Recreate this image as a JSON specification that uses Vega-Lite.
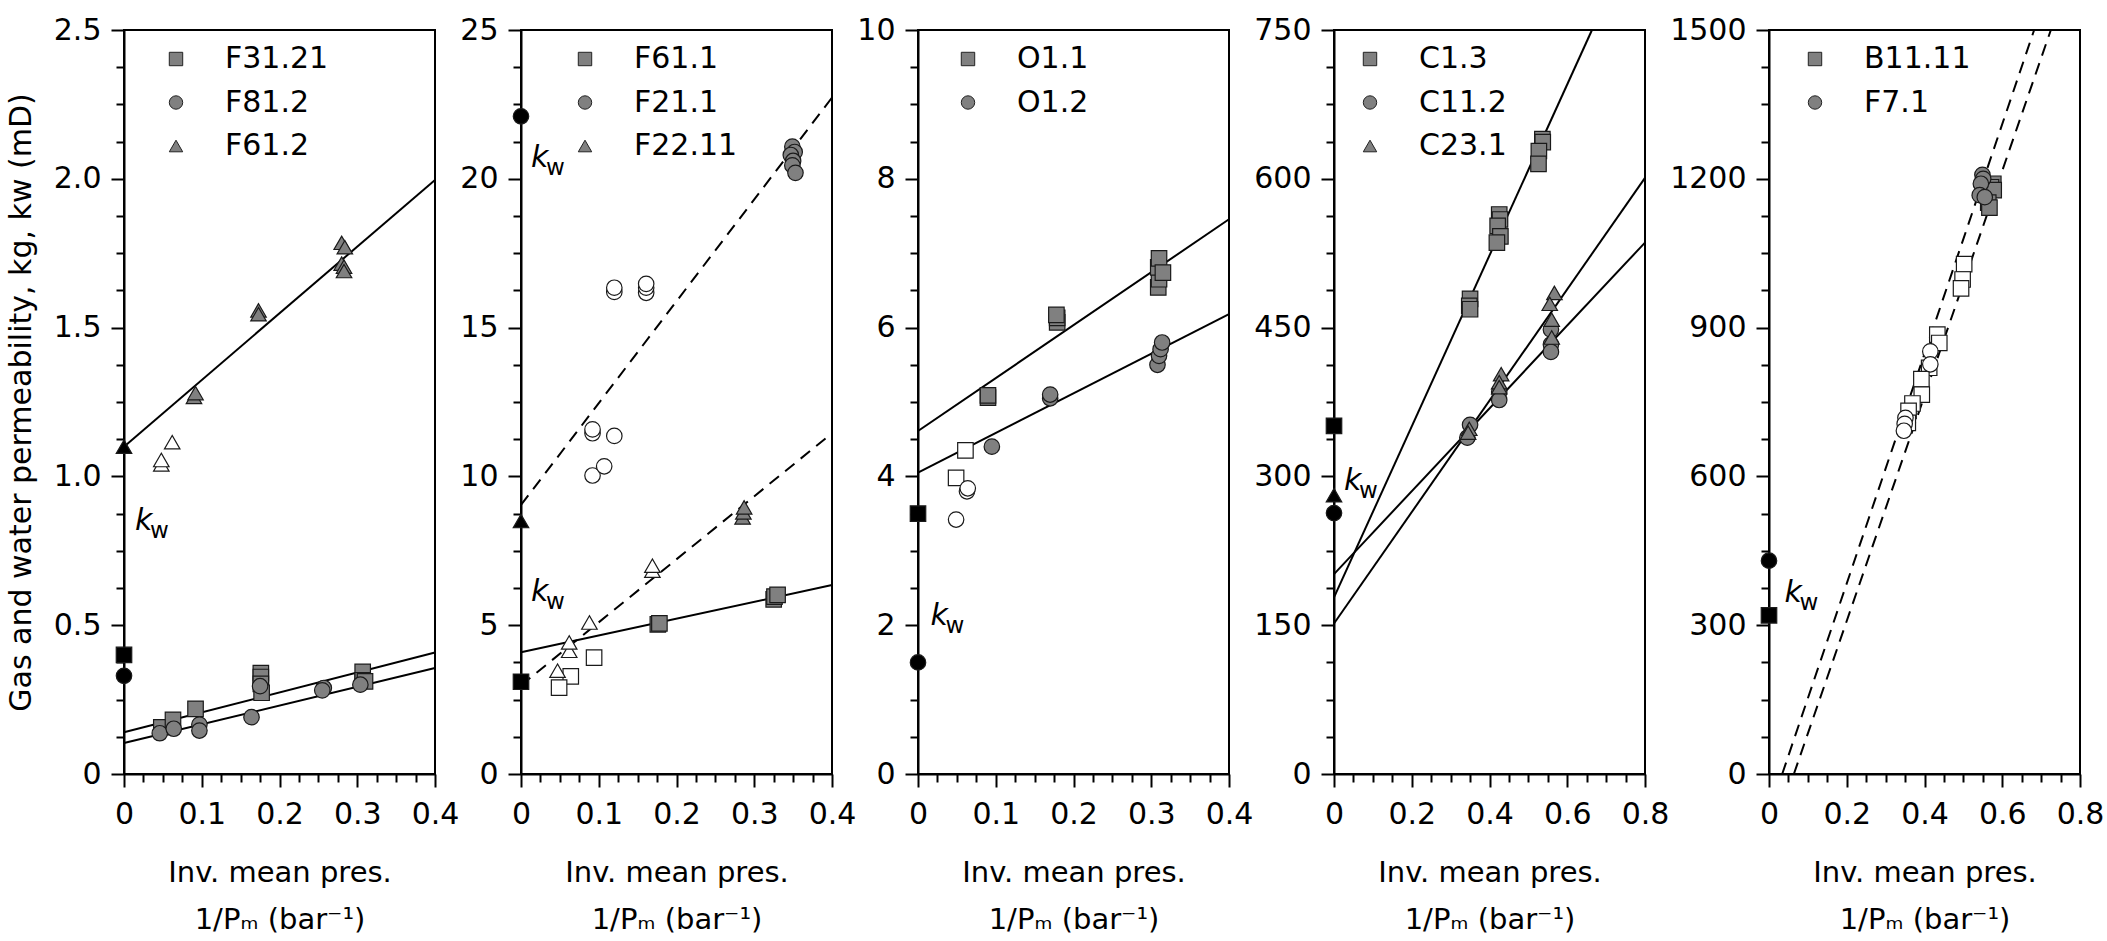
{
  "$schema": "https://vega.github.io/schema/vega-lite/v6.json",
  "background": "white",
  "padding": {"left": 5, "top": 14, "right": 0, "bottom": 0},
  "spacing": -2,
  "config": {
    "font": "DejaVu Sans",
    "view": {"stroke": "black", "strokeWidth": 2},
    "axis": {"domainColor": "black", "domainWidth": 2, "tickColor": "black", "tickWidth": 2, "labelFont": "DejaVu Sans", "labelFontSize": 30, "labelColor": "black", "titleFont": "DejaVu Sans", "titleFontSize": 29, "titleFontWeight": "normal", "titleColor": "black", "grid": false, "labelOverlap": false, "labelFlush": false},
    "axisX": {"labelPadding": 12, "titlePadding": 29, "titleLineHeight": 47},
    "axisY": {"labelPadding": 10, "titlePadding": 17, "titleFontSize": 30},
    "legend": {"labelFont": "DejaVu Sans", "labelFontSize": 30, "labelColor": "black", "symbolSize": 180, "symbolFillColor": "#808080", "symbolStrokeColor": "#222222", "symbolStrokeWidth": 1, "labelOffset": 34, "rowPadding": 13.5, "padding": 0}
  },
  "datasets": {
    "pts": [
      {"panel": 1, "series": "F31.21", "kind": "gas", "x": 0.048, "y": 0.157},
      {"panel": 1, "series": "F31.21", "kind": "gas", "x": 0.063, "y": 0.182},
      {"panel": 1, "series": "F31.21", "kind": "gas", "x": 0.092, "y": 0.219},
      {"panel": 1, "series": "F31.21", "kind": "gas", "x": 0.176, "y": 0.339},
      {"panel": 1, "series": "F31.21", "kind": "gas", "x": 0.176, "y": 0.326},
      {"panel": 1, "series": "F31.21", "kind": "gas", "x": 0.176, "y": 0.303},
      {"panel": 1, "series": "F31.21", "kind": "gas", "x": 0.177, "y": 0.273},
      {"panel": 1, "series": "F31.21", "kind": "gas", "x": 0.307, "y": 0.343},
      {"panel": 1, "series": "F31.21", "kind": "gas", "x": 0.307, "y": 0.315},
      {"panel": 1, "series": "F31.21", "kind": "gas", "x": 0.31, "y": 0.311},
      {"panel": 1, "series": "F31.21", "kind": "water", "x": 0, "y": 0.4},
      {"panel": 1, "series": "F81.2", "kind": "gas", "x": 0.046, "y": 0.137},
      {"panel": 1, "series": "F81.2", "kind": "gas", "x": 0.064, "y": 0.152},
      {"panel": 1, "series": "F81.2", "kind": "gas", "x": 0.097, "y": 0.166},
      {"panel": 1, "series": "F81.2", "kind": "gas", "x": 0.097, "y": 0.146},
      {"panel": 1, "series": "F81.2", "kind": "gas", "x": 0.164, "y": 0.191},
      {"panel": 1, "series": "F81.2", "kind": "gas", "x": 0.175, "y": 0.295},
      {"panel": 1, "series": "F81.2", "kind": "gas", "x": 0.257, "y": 0.289},
      {"panel": 1, "series": "F81.2", "kind": "gas", "x": 0.255, "y": 0.281},
      {"panel": 1, "series": "F81.2", "kind": "gas", "x": 0.304, "y": 0.3},
      {"panel": 1, "series": "F81.2", "kind": "water", "x": 0, "y": 0.33},
      {"panel": 1, "series": "F61.2", "kind": "gas", "x": 0.09, "y": 1.267},
      {"panel": 1, "series": "F61.2", "kind": "gas", "x": 0.092, "y": 1.28},
      {"panel": 1, "series": "F61.2", "kind": "gas", "x": 0.173, "y": 1.558},
      {"panel": 1, "series": "F61.2", "kind": "gas", "x": 0.173, "y": 1.545},
      {"panel": 1, "series": "F61.2", "kind": "gas", "x": 0.28, "y": 1.785},
      {"panel": 1, "series": "F61.2", "kind": "gas", "x": 0.284, "y": 1.77},
      {"panel": 1, "series": "F61.2", "kind": "gas", "x": 0.28, "y": 1.715},
      {"panel": 1, "series": "F61.2", "kind": "gas", "x": 0.283, "y": 1.705},
      {"panel": 1, "series": "F61.2", "kind": "gas", "x": 0.283, "y": 1.69},
      {"panel": 1, "series": "F61.2", "kind": "excluded", "x": 0.048, "y": 1.04},
      {"panel": 1, "series": "F61.2", "kind": "excluded", "x": 0.048, "y": 1.055},
      {"panel": 1, "series": "F61.2", "kind": "excluded", "x": 0.062, "y": 1.115},
      {"panel": 1, "series": "F61.2", "kind": "water", "x": 0, "y": 1.1},

      {"panel": 2, "series": "F61.1", "kind": "gas", "x": 0.176, "y": 5.03},
      {"panel": 2, "series": "F61.1", "kind": "gas", "x": 0.178, "y": 5.06},
      {"panel": 2, "series": "F61.1", "kind": "gas", "x": 0.325, "y": 5.87},
      {"panel": 2, "series": "F61.1", "kind": "gas", "x": 0.326, "y": 5.96},
      {"panel": 2, "series": "F61.1", "kind": "gas", "x": 0.33, "y": 6.02},
      {"panel": 2, "series": "F61.1", "kind": "excluded", "x": 0.094, "y": 3.91},
      {"panel": 2, "series": "F61.1", "kind": "excluded", "x": 0.064, "y": 3.28},
      {"panel": 2, "series": "F61.1", "kind": "excluded", "x": 0.049, "y": 2.9},
      {"panel": 2, "series": "F61.1", "kind": "water", "x": 0, "y": 3.1},
      {"panel": 2, "series": "F21.1", "kind": "gas", "x": 0.349, "y": 21.08},
      {"panel": 2, "series": "F21.1", "kind": "gas", "x": 0.352, "y": 20.9},
      {"panel": 2, "series": "F21.1", "kind": "gas", "x": 0.347, "y": 20.8},
      {"panel": 2, "series": "F21.1", "kind": "gas", "x": 0.35, "y": 20.6},
      {"panel": 2, "series": "F21.1", "kind": "gas", "x": 0.349, "y": 20.45},
      {"panel": 2, "series": "F21.1", "kind": "gas", "x": 0.353, "y": 20.2},
      {"panel": 2, "series": "F21.1", "kind": "excluded", "x": 0.12, "y": 16.2},
      {"panel": 2, "series": "F21.1", "kind": "excluded", "x": 0.12, "y": 16.34},
      {"panel": 2, "series": "F21.1", "kind": "excluded", "x": 0.161, "y": 16.17},
      {"panel": 2, "series": "F21.1", "kind": "excluded", "x": 0.161, "y": 16.34},
      {"panel": 2, "series": "F21.1", "kind": "excluded", "x": 0.161, "y": 16.47},
      {"panel": 2, "series": "F21.1", "kind": "excluded", "x": 0.092, "y": 11.45},
      {"panel": 2, "series": "F21.1", "kind": "excluded", "x": 0.092, "y": 11.58},
      {"panel": 2, "series": "F21.1", "kind": "excluded", "x": 0.12, "y": 11.36},
      {"panel": 2, "series": "F21.1", "kind": "excluded", "x": 0.092, "y": 10.03},
      {"panel": 2, "series": "F21.1", "kind": "excluded", "x": 0.107, "y": 10.34},
      {"panel": 2, "series": "F21.1", "kind": "water", "x": 0, "y": 22.1},
      {"panel": 2, "series": "F22.11", "kind": "gas", "x": 0.285, "y": 8.62},
      {"panel": 2, "series": "F22.11", "kind": "gas", "x": 0.286, "y": 8.79},
      {"panel": 2, "series": "F22.11", "kind": "gas", "x": 0.287, "y": 8.96},
      {"panel": 2, "series": "F22.11", "kind": "excluded", "x": 0.169, "y": 6.83},
      {"panel": 2, "series": "F22.11", "kind": "excluded", "x": 0.169, "y": 7.0},
      {"panel": 2, "series": "F22.11", "kind": "excluded", "x": 0.088, "y": 5.09},
      {"panel": 2, "series": "F22.11", "kind": "excluded", "x": 0.062, "y": 4.14},
      {"panel": 2, "series": "F22.11", "kind": "excluded", "x": 0.062, "y": 4.42},
      {"panel": 2, "series": "F22.11", "kind": "excluded", "x": 0.047, "y": 3.47},
      {"panel": 2, "series": "F22.11", "kind": "water", "x": 0, "y": 8.5},

      {"panel": 3, "series": "O1.1", "kind": "gas", "x": 0.09, "y": 5.06},
      {"panel": 3, "series": "O1.1", "kind": "gas", "x": 0.09, "y": 5.09},
      {"panel": 3, "series": "O1.1", "kind": "gas", "x": 0.179, "y": 6.07},
      {"panel": 3, "series": "O1.1", "kind": "gas", "x": 0.179, "y": 6.13},
      {"panel": 3, "series": "O1.1", "kind": "gas", "x": 0.178, "y": 6.17},
      {"panel": 3, "series": "O1.1", "kind": "gas", "x": 0.309, "y": 6.54},
      {"panel": 3, "series": "O1.1", "kind": "gas", "x": 0.31, "y": 6.65},
      {"panel": 3, "series": "O1.1", "kind": "gas", "x": 0.309, "y": 6.81},
      {"panel": 3, "series": "O1.1", "kind": "gas", "x": 0.31, "y": 6.93},
      {"panel": 3, "series": "O1.1", "kind": "gas", "x": 0.315, "y": 6.74},
      {"panel": 3, "series": "O1.1", "kind": "excluded", "x": 0.061, "y": 4.35},
      {"panel": 3, "series": "O1.1", "kind": "excluded", "x": 0.049, "y": 3.98},
      {"panel": 3, "series": "O1.1", "kind": "water", "x": 0, "y": 3.5},
      {"panel": 3, "series": "O1.2", "kind": "gas", "x": 0.095, "y": 4.4},
      {"panel": 3, "series": "O1.2", "kind": "gas", "x": 0.17, "y": 5.05},
      {"panel": 3, "series": "O1.2", "kind": "gas", "x": 0.17, "y": 5.1},
      {"panel": 3, "series": "O1.2", "kind": "gas", "x": 0.308, "y": 5.5},
      {"panel": 3, "series": "O1.2", "kind": "gas", "x": 0.31, "y": 5.62},
      {"panel": 3, "series": "O1.2", "kind": "gas", "x": 0.312, "y": 5.71},
      {"panel": 3, "series": "O1.2", "kind": "gas", "x": 0.314, "y": 5.8},
      {"panel": 3, "series": "O1.2", "kind": "excluded", "x": 0.063, "y": 3.8},
      {"panel": 3, "series": "O1.2", "kind": "excluded", "x": 0.064, "y": 3.84},
      {"panel": 3, "series": "O1.2", "kind": "excluded", "x": 0.049, "y": 3.42},
      {"panel": 3, "series": "O1.2", "kind": "water", "x": 0, "y": 1.5},

      {"panel": 4, "series": "C1.3", "kind": "gas", "x": 0.35, "y": 479},
      {"panel": 4, "series": "C1.3", "kind": "gas", "x": 0.348, "y": 472},
      {"panel": 4, "series": "C1.3", "kind": "gas", "x": 0.35, "y": 468.5},
      {"panel": 4, "series": "C1.3", "kind": "gas", "x": 0.425, "y": 564},
      {"panel": 4, "series": "C1.3", "kind": "gas", "x": 0.427, "y": 559},
      {"panel": 4, "series": "C1.3", "kind": "gas", "x": 0.421, "y": 552.5},
      {"panel": 4, "series": "C1.3", "kind": "gas", "x": 0.428, "y": 542},
      {"panel": 4, "series": "C1.3", "kind": "gas", "x": 0.419, "y": 535.7},
      {"panel": 4, "series": "C1.3", "kind": "gas", "x": 0.536, "y": 640},
      {"panel": 4, "series": "C1.3", "kind": "gas", "x": 0.537, "y": 637},
      {"panel": 4, "series": "C1.3", "kind": "gas", "x": 0.527, "y": 628},
      {"panel": 4, "series": "C1.3", "kind": "gas", "x": 0.526, "y": 615},
      {"panel": 4, "series": "C1.3", "kind": "water", "x": 0, "y": 351},
      {"panel": 4, "series": "C11.2", "kind": "gas", "x": 0.35, "y": 352},
      {"panel": 4, "series": "C11.2", "kind": "gas", "x": 0.343, "y": 339},
      {"panel": 4, "series": "C11.2", "kind": "gas", "x": 0.425, "y": 385},
      {"panel": 4, "series": "C11.2", "kind": "gas", "x": 0.425, "y": 377},
      {"panel": 4, "series": "C11.2", "kind": "gas", "x": 0.558, "y": 448},
      {"panel": 4, "series": "C11.2", "kind": "gas", "x": 0.558, "y": 433},
      {"panel": 4, "series": "C11.2", "kind": "gas", "x": 0.558, "y": 425.5},
      {"panel": 4, "series": "C11.2", "kind": "water", "x": 0, "y": 263},
      {"panel": 4, "series": "C23.1", "kind": "gas", "x": 0.348, "y": 348},
      {"panel": 4, "series": "C23.1", "kind": "gas", "x": 0.345, "y": 344},
      {"panel": 4, "series": "C23.1", "kind": "gas", "x": 0.43, "y": 403},
      {"panel": 4, "series": "C23.1", "kind": "gas", "x": 0.425, "y": 395},
      {"panel": 4, "series": "C23.1", "kind": "gas", "x": 0.425, "y": 390},
      {"panel": 4, "series": "C23.1", "kind": "gas", "x": 0.567, "y": 485},
      {"panel": 4, "series": "C23.1", "kind": "gas", "x": 0.555, "y": 474},
      {"panel": 4, "series": "C23.1", "kind": "gas", "x": 0.56, "y": 458},
      {"panel": 4, "series": "C23.1", "kind": "gas", "x": 0.56, "y": 440},
      {"panel": 4, "series": "C23.1", "kind": "water", "x": 0, "y": 281},

      {"panel": 5, "series": "B11.11", "kind": "excluded", "x": 0.502, "y": 1028},
      {"panel": 5, "series": "B11.11", "kind": "excluded", "x": 0.498, "y": 997},
      {"panel": 5, "series": "B11.11", "kind": "excluded", "x": 0.494, "y": 979},
      {"panel": 5, "series": "B11.11", "kind": "excluded", "x": 0.433, "y": 886},
      {"panel": 5, "series": "B11.11", "kind": "excluded", "x": 0.438, "y": 869},
      {"panel": 5, "series": "B11.11", "kind": "excluded", "x": 0.412, "y": 819},
      {"panel": 5, "series": "B11.11", "kind": "excluded", "x": 0.392, "y": 796},
      {"panel": 5, "series": "B11.11", "kind": "excluded", "x": 0.393, "y": 765},
      {"panel": 5, "series": "B11.11", "kind": "excluded", "x": 0.369, "y": 747},
      {"panel": 5, "series": "B11.11", "kind": "excluded", "x": 0.359, "y": 732},
      {"panel": 5, "series": "B11.11", "kind": "excluded", "x": 0.357, "y": 708},
      {"panel": 5, "series": "F7.1", "kind": "excluded", "x": 0.415, "y": 852},
      {"panel": 5, "series": "F7.1", "kind": "excluded", "x": 0.415, "y": 826},
      {"panel": 5, "series": "F7.1", "kind": "excluded", "x": 0.351, "y": 718},
      {"panel": 5, "series": "F7.1", "kind": "excluded", "x": 0.349, "y": 706},
      {"panel": 5, "series": "F7.1", "kind": "excluded", "x": 0.347, "y": 692},
      {"panel": 5, "series": "B11.11", "kind": "gas", "x": 0.577, "y": 1190},
      {"panel": 5, "series": "B11.11", "kind": "gas", "x": 0.571, "y": 1183},
      {"panel": 5, "series": "B11.11", "kind": "gas", "x": 0.578, "y": 1177},
      {"panel": 5, "series": "B11.11", "kind": "gas", "x": 0.564, "y": 1152},
      {"panel": 5, "series": "B11.11", "kind": "gas", "x": 0.567, "y": 1142},
      {"panel": 5, "series": "F7.1", "kind": "gas", "x": 0.549, "y": 1208},
      {"panel": 5, "series": "F7.1", "kind": "gas", "x": 0.551, "y": 1200},
      {"panel": 5, "series": "F7.1", "kind": "gas", "x": 0.545, "y": 1190},
      {"panel": 5, "series": "F7.1", "kind": "gas", "x": 0.542, "y": 1167},
      {"panel": 5, "series": "F7.1", "kind": "gas", "x": 0.555, "y": 1163},
      {"panel": 5, "series": "B11.11", "kind": "water", "x": 0, "y": 320},
      {"panel": 5, "series": "F7.1", "kind": "water", "x": 0, "y": 430}
    ],
    "fits": [
      {"panel": 1, "series": "F31.21", "x": 0, "y": 0.14},
      {"panel": 1, "series": "F31.21", "x": 0.4, "y": 0.408},
      {"panel": 1, "series": "F81.2", "x": 0, "y": 0.104},
      {"panel": 1, "series": "F81.2", "x": 0.4, "y": 0.356},
      {"panel": 1, "series": "F61.2", "x": 0, "y": 1.1},
      {"panel": 1, "series": "F61.2", "x": 0.4, "y": 1.996},
      {"panel": 2, "series": "F61.1", "x": 0, "y": 4.09},
      {"panel": 2, "series": "F61.1", "x": 0.4, "y": 6.35},
      {"panel": 2, "series": "F21.1", "x": 0, "y": 9.04},
      {"panel": 2, "series": "F21.1", "x": 0.4, "y": 22.73},
      {"panel": 2, "series": "F22.11", "x": 0, "y": 2.98},
      {"panel": 2, "series": "F22.11", "x": 0.4, "y": 11.45},
      {"panel": 3, "series": "O1.1", "x": 0, "y": 4.61},
      {"panel": 3, "series": "O1.1", "x": 0.4, "y": 7.456},
      {"panel": 3, "series": "O1.2", "x": 0, "y": 4.05},
      {"panel": 3, "series": "O1.2", "x": 0.4, "y": 6.18},
      {"panel": 4, "series": "C1.3", "x": 0, "y": 178},
      {"panel": 4, "series": "C1.3", "x": 0.6636, "y": 750},
      {"panel": 4, "series": "C11.2", "x": 0, "y": 201.5},
      {"panel": 4, "series": "C11.2", "x": 0.8, "y": 535.7},
      {"panel": 4, "series": "C23.1", "x": 0, "y": 151.7},
      {"panel": 4, "series": "C23.1", "x": 0.8, "y": 601},
      {"panel": 5, "series": "F7.1", "x": 0.034, "y": 0},
      {"panel": 5, "series": "F7.1", "x": 0.682, "y": 1500},
      {"panel": 5, "series": "B11.11", "x": 0.064, "y": 0},
      {"panel": 5, "series": "B11.11", "x": 0.725, "y": 1500}
    ],
    "kw": [
      {"panel": 1, "x": 0.014, "y": 0.82, "base": "k", "sub": "w"},
      {"panel": 2, "x": 0.013, "y": 20.38, "base": "k", "sub": "w"},
      {"panel": 2, "x": 0.013, "y": 5.82, "base": "k", "sub": "w"},
      {"panel": 3, "x": 0.016, "y": 2.0, "base": "k", "sub": "w"},
      {"panel": 4, "x": 0.026, "y": 286.5, "base": "k", "sub": "w"},
      {"panel": 5, "x": 0.04, "y": 347, "base": "k", "sub": "w"}
    ]
  },
  "resolve": {"scale": {"shape": "independent", "fill": "independent"}},
  "hconcat": [
    {
      "width": 311, "height": 744,
      "encoding": {
        "x": {"field": "x", "type": "quantitative", "scale": {"domain": [0, 0.4], "nice": false, "zero": false},
          "axis": {"values": [0, 0.025, 0.05, 0.075, 0.1, 0.125, 0.15, 0.175, 0.2, 0.225, 0.25, 0.275, 0.3, 0.325, 0.35, 0.375, 0.4],
            "labelExpr": "abs(datum.value*10-round(datum.value*10))<0.001 ? (datum.value==0 ? '0' : format(datum.value,'.1f')) : ''",
            "tickSize": {"condition": {"test": "abs(datum.value*10-round(datum.value*10))<0.001", "value": 13}, "value": 8},
            "title": ["Inv. mean pres.", "1/Pₘ (bar⁻¹)"]}},
        "y": {"field": "y", "type": "quantitative", "scale": {"domain": [0, 2.5], "nice": false, "zero": false},
          "axis": {"values": [0, 0.125, 0.25, 0.375, 0.5, 0.625, 0.75, 0.875, 1, 1.125, 1.25, 1.375, 1.5, 1.625, 1.75, 1.875, 2, 2.125, 2.25, 2.375, 2.5],
            "labelExpr": "abs(datum.value*2-round(datum.value*2))<0.001 ? (datum.value==0 ? '0' : format(datum.value,'.1f')) : ''",
            "tickSize": {"condition": {"test": "abs(datum.value*2-round(datum.value*2))<0.001", "value": 13}, "value": 8},
            "title": "Gas and water permeability,  kg, kw (mD)"}}
      },
      "layer": [
        {"data": {"name": "fits"}, "transform": [{"filter": "datum.panel == 1"}],
          "mark": {"type": "line", "color": "black", "strokeWidth": 2},
          "encoding": {"detail": {"field": "series"}}},
        {"data": {"name": "pts"}, "transform": [{"filter": "datum.panel == 1"}],
          "mark": {"type": "point", "filled": true, "size": 240, "opacity": 1, "fill": "#808080", "stroke": "#1a1a1a", "strokeWidth": 1.2},
          "encoding": {
            "shape": {"field": "series", "type": "nominal", "scale": {"domain": ["F31.21", "F81.2", "F61.2"], "range": ["square", "circle", "triangle-up"]},
              "legend": {"title": null, "orient": "none", "legendX": 37, "legendY": 14}},
            "fill": {"field": "kind", "type": "nominal", "scale": {"domain": ["gas", "excluded", "water"], "range": ["#808080", "#ffffff", "#000000"]}, "legend": null}}},
        {"data": {"name": "kw"}, "transform": [{"filter": "datum.panel == 1"}],
          "mark": {"type": "text", "align": "left", "baseline": "alphabetic", "fontStyle": "italic", "fontSize": 30, "color": "black"},
          "encoding": {"text": {"field": "base"}}},
        {"data": {"name": "kw"}, "transform": [{"filter": "datum.panel == 1"}],
          "mark": {"type": "text", "align": "left", "baseline": "alphabetic", "fontSize": 23, "dx": 15, "dy": 8, "color": "black"},
          "encoding": {"text": {"field": "sub"}}}
      ]
    },
    {
      "width": 311, "height": 744,
      "encoding": {
        "x": {"field": "x", "type": "quantitative", "scale": {"domain": [0, 0.4], "nice": false, "zero": false},
          "axis": {"values": [0, 0.025, 0.05, 0.075, 0.1, 0.125, 0.15, 0.175, 0.2, 0.225, 0.25, 0.275, 0.3, 0.325, 0.35, 0.375, 0.4],
            "labelExpr": "abs(datum.value*10-round(datum.value*10))<0.001 ? (datum.value==0 ? '0' : format(datum.value,'.1f')) : ''",
            "tickSize": {"condition": {"test": "abs(datum.value*10-round(datum.value*10))<0.001", "value": 13}, "value": 8},
            "title": ["Inv. mean pres.", "1/Pₘ (bar⁻¹)"]}},
        "y": {"field": "y", "type": "quantitative", "scale": {"domain": [0, 25], "nice": false, "zero": false},
          "axis": {"values": [0, 1.25, 2.5, 3.75, 5, 6.25, 7.5, 8.75, 10, 11.25, 12.5, 13.75, 15, 16.25, 17.5, 18.75, 20, 21.25, 22.5, 23.75, 25],
            "labelExpr": "abs(datum.value/5-round(datum.value/5))<0.001 ? format(datum.value,'d') : ''",
            "tickSize": {"condition": {"test": "abs(datum.value/5-round(datum.value/5))<0.001", "value": 13}, "value": 8},
            "title": null}}
      },
      "layer": [
        {"data": {"name": "fits"}, "transform": [{"filter": "datum.panel == 2 && datum.series == 'F61.1'"}],
          "mark": {"type": "line", "color": "black", "strokeWidth": 2},
          "encoding": {"detail": {"field": "series"}}},
        {"data": {"name": "fits"}, "transform": [{"filter": "datum.panel == 2 && datum.series != 'F61.1'"}],
          "mark": {"type": "line", "color": "black", "strokeWidth": 2, "strokeDash": [12, 8]},
          "encoding": {"detail": {"field": "series"}}},
        {"data": {"name": "pts"}, "transform": [{"filter": "datum.panel == 2"}],
          "mark": {"type": "point", "filled": true, "size": 240, "opacity": 1, "fill": "#808080", "stroke": "#1a1a1a", "strokeWidth": 1.2},
          "encoding": {
            "shape": {"field": "series", "type": "nominal", "scale": {"domain": ["F61.1", "F21.1", "F22.11"], "range": ["square", "circle", "triangle-up"]},
              "legend": {"title": null, "orient": "none", "legendX": 49, "legendY": 14}},
            "fill": {"field": "kind", "type": "nominal", "scale": {"domain": ["gas", "excluded", "water"], "range": ["#808080", "#ffffff", "#000000"]}, "legend": null}}},
        {"data": {"name": "kw"}, "transform": [{"filter": "datum.panel == 2"}],
          "mark": {"type": "text", "align": "left", "baseline": "alphabetic", "fontStyle": "italic", "fontSize": 30, "color": "black"},
          "encoding": {"text": {"field": "base"}}},
        {"data": {"name": "kw"}, "transform": [{"filter": "datum.panel == 2"}],
          "mark": {"type": "text", "align": "left", "baseline": "alphabetic", "fontSize": 23, "dx": 15, "dy": 8, "color": "black"},
          "encoding": {"text": {"field": "sub"}}}
      ]
    },
    {
      "width": 311, "height": 744,
      "encoding": {
        "x": {"field": "x", "type": "quantitative", "scale": {"domain": [0, 0.4], "nice": false, "zero": false},
          "axis": {"values": [0, 0.025, 0.05, 0.075, 0.1, 0.125, 0.15, 0.175, 0.2, 0.225, 0.25, 0.275, 0.3, 0.325, 0.35, 0.375, 0.4],
            "labelExpr": "abs(datum.value*10-round(datum.value*10))<0.001 ? (datum.value==0 ? '0' : format(datum.value,'.1f')) : ''",
            "tickSize": {"condition": {"test": "abs(datum.value*10-round(datum.value*10))<0.001", "value": 13}, "value": 8},
            "title": ["Inv. mean pres.", "1/Pₘ (bar⁻¹)"]}},
        "y": {"field": "y", "type": "quantitative", "scale": {"domain": [0, 10], "nice": false, "zero": false},
          "axis": {"values": [0, 0.5, 1, 1.5, 2, 2.5, 3, 3.5, 4, 4.5, 5, 5.5, 6, 6.5, 7, 7.5, 8, 8.5, 9, 9.5, 10],
            "labelExpr": "abs(datum.value/2-round(datum.value/2))<0.001 ? format(datum.value,'d') : ''",
            "tickSize": {"condition": {"test": "abs(datum.value/2-round(datum.value/2))<0.001", "value": 13}, "value": 8},
            "title": null}}
      },
      "layer": [
        {"data": {"name": "fits"}, "transform": [{"filter": "datum.panel == 3"}],
          "mark": {"type": "line", "color": "black", "strokeWidth": 2},
          "encoding": {"detail": {"field": "series"}}},
        {"data": {"name": "pts"}, "transform": [{"filter": "datum.panel == 3"}],
          "mark": {"type": "point", "filled": true, "size": 240, "opacity": 1, "fill": "#808080", "stroke": "#1a1a1a", "strokeWidth": 1.2},
          "encoding": {
            "shape": {"field": "series", "type": "nominal", "scale": {"domain": ["O1.1", "O1.2"], "range": ["square", "circle"]},
              "legend": {"title": null, "orient": "none", "legendX": 35, "legendY": 14}},
            "fill": {"field": "kind", "type": "nominal", "scale": {"domain": ["gas", "excluded", "water"], "range": ["#808080", "#ffffff", "#000000"]}, "legend": null}}},
        {"data": {"name": "kw"}, "transform": [{"filter": "datum.panel == 3"}],
          "mark": {"type": "text", "align": "left", "baseline": "alphabetic", "fontStyle": "italic", "fontSize": 30, "color": "black"},
          "encoding": {"text": {"field": "base"}}},
        {"data": {"name": "kw"}, "transform": [{"filter": "datum.panel == 3"}],
          "mark": {"type": "text", "align": "left", "baseline": "alphabetic", "fontSize": 23, "dx": 15, "dy": 8, "color": "black"},
          "encoding": {"text": {"field": "sub"}}}
      ]
    },
    {
      "width": 311, "height": 744,
      "encoding": {
        "x": {"field": "x", "type": "quantitative", "scale": {"domain": [0, 0.8], "nice": false, "zero": false},
          "axis": {"values": [0, 0.05, 0.1, 0.15, 0.2, 0.25, 0.3, 0.35, 0.4, 0.45, 0.5, 0.55, 0.6, 0.65, 0.7, 0.75, 0.8],
            "labelExpr": "abs(datum.value*5-round(datum.value*5))<0.001 ? (datum.value==0 ? '0' : format(datum.value,'.1f')) : ''",
            "tickSize": {"condition": {"test": "abs(datum.value*5-round(datum.value*5))<0.001", "value": 13}, "value": 8},
            "title": ["Inv. mean pres.", "1/Pₘ (bar⁻¹)"]}},
        "y": {"field": "y", "type": "quantitative", "scale": {"domain": [0, 750], "nice": false, "zero": false},
          "axis": {"values": [0, 37.5, 75, 112.5, 150, 187.5, 225, 262.5, 300, 337.5, 375, 412.5, 450, 487.5, 525, 562.5, 600, 637.5, 675, 712.5, 750],
            "labelExpr": "abs(datum.value/150-round(datum.value/150))<0.001 ? format(datum.value,'d') : ''",
            "tickSize": {"condition": {"test": "abs(datum.value/150-round(datum.value/150))<0.001", "value": 13}, "value": 8},
            "title": null}}
      },
      "layer": [
        {"data": {"name": "fits"}, "transform": [{"filter": "datum.panel == 4"}],
          "mark": {"type": "line", "color": "black", "strokeWidth": 2},
          "encoding": {"detail": {"field": "series"}}},
        {"data": {"name": "pts"}, "transform": [{"filter": "datum.panel == 4"}],
          "mark": {"type": "point", "filled": true, "size": 240, "opacity": 1, "fill": "#808080", "stroke": "#1a1a1a", "strokeWidth": 1.2},
          "encoding": {
            "shape": {"field": "series", "type": "nominal", "scale": {"domain": ["C1.3", "C11.2", "C23.1"], "range": ["square", "circle", "triangle-up"]},
              "legend": {"title": null, "orient": "none", "legendX": 21, "legendY": 14}},
            "fill": {"field": "kind", "type": "nominal", "scale": {"domain": ["gas", "excluded", "water"], "range": ["#808080", "#ffffff", "#000000"]}, "legend": null}}},
        {"data": {"name": "kw"}, "transform": [{"filter": "datum.panel == 4"}],
          "mark": {"type": "text", "align": "left", "baseline": "alphabetic", "fontStyle": "italic", "fontSize": 30, "color": "black"},
          "encoding": {"text": {"field": "base"}}},
        {"data": {"name": "kw"}, "transform": [{"filter": "datum.panel == 4"}],
          "mark": {"type": "text", "align": "left", "baseline": "alphabetic", "fontSize": 23, "dx": 15, "dy": 8, "color": "black"},
          "encoding": {"text": {"field": "sub"}}}
      ]
    },
    {
      "width": 311, "height": 744,
      "encoding": {
        "x": {"field": "x", "type": "quantitative", "scale": {"domain": [0, 0.8], "nice": false, "zero": false},
          "axis": {"values": [0, 0.05, 0.1, 0.15, 0.2, 0.25, 0.3, 0.35, 0.4, 0.45, 0.5, 0.55, 0.6, 0.65, 0.7, 0.75, 0.8],
            "labelExpr": "abs(datum.value*5-round(datum.value*5))<0.001 ? (datum.value==0 ? '0' : format(datum.value,'.1f')) : ''",
            "tickSize": {"condition": {"test": "abs(datum.value*5-round(datum.value*5))<0.001", "value": 13}, "value": 8},
            "title": ["Inv. mean pres.", "1/Pₘ (bar⁻¹)"]}},
        "y": {"field": "y", "type": "quantitative", "scale": {"domain": [0, 1500], "nice": false, "zero": false},
          "axis": {"values": [0, 75, 150, 225, 300, 375, 450, 525, 600, 675, 750, 825, 900, 975, 1050, 1125, 1200, 1275, 1350, 1425, 1500],
            "labelExpr": "abs(datum.value/300-round(datum.value/300))<0.001 ? format(datum.value,'d') : ''",
            "tickSize": {"condition": {"test": "abs(datum.value/300-round(datum.value/300))<0.001", "value": 13}, "value": 8},
            "title": null}}
      },
      "layer": [
        {"data": {"name": "fits"}, "transform": [{"filter": "datum.panel == 5"}],
          "mark": {"type": "line", "color": "black", "strokeWidth": 2, "strokeDash": [12, 8]},
          "encoding": {"detail": {"field": "series"}}},
        {"data": {"name": "pts"}, "transform": [{"filter": "datum.panel == 5"}],
          "mark": {"type": "point", "filled": true, "size": 240, "opacity": 1, "fill": "#808080", "stroke": "#1a1a1a", "strokeWidth": 1.2},
          "encoding": {
            "shape": {"field": "series", "type": "nominal", "scale": {"domain": ["B11.11", "F7.1"], "range": ["square", "circle"]},
              "legend": {"title": null, "orient": "none", "legendX": 31, "legendY": 14}},
            "fill": {"field": "kind", "type": "nominal", "scale": {"domain": ["gas", "excluded", "water"], "range": ["#808080", "#ffffff", "#000000"]}, "legend": null}}},
        {"data": {"name": "kw"}, "transform": [{"filter": "datum.panel == 5"}],
          "mark": {"type": "text", "align": "left", "baseline": "alphabetic", "fontStyle": "italic", "fontSize": 30, "color": "black"},
          "encoding": {"text": {"field": "base"}}},
        {"data": {"name": "kw"}, "transform": [{"filter": "datum.panel == 5"}],
          "mark": {"type": "text", "align": "left", "baseline": "alphabetic", "fontSize": 23, "dx": 15, "dy": 8, "color": "black"},
          "encoding": {"text": {"field": "sub"}}}
      ]
    }
  ]
}
